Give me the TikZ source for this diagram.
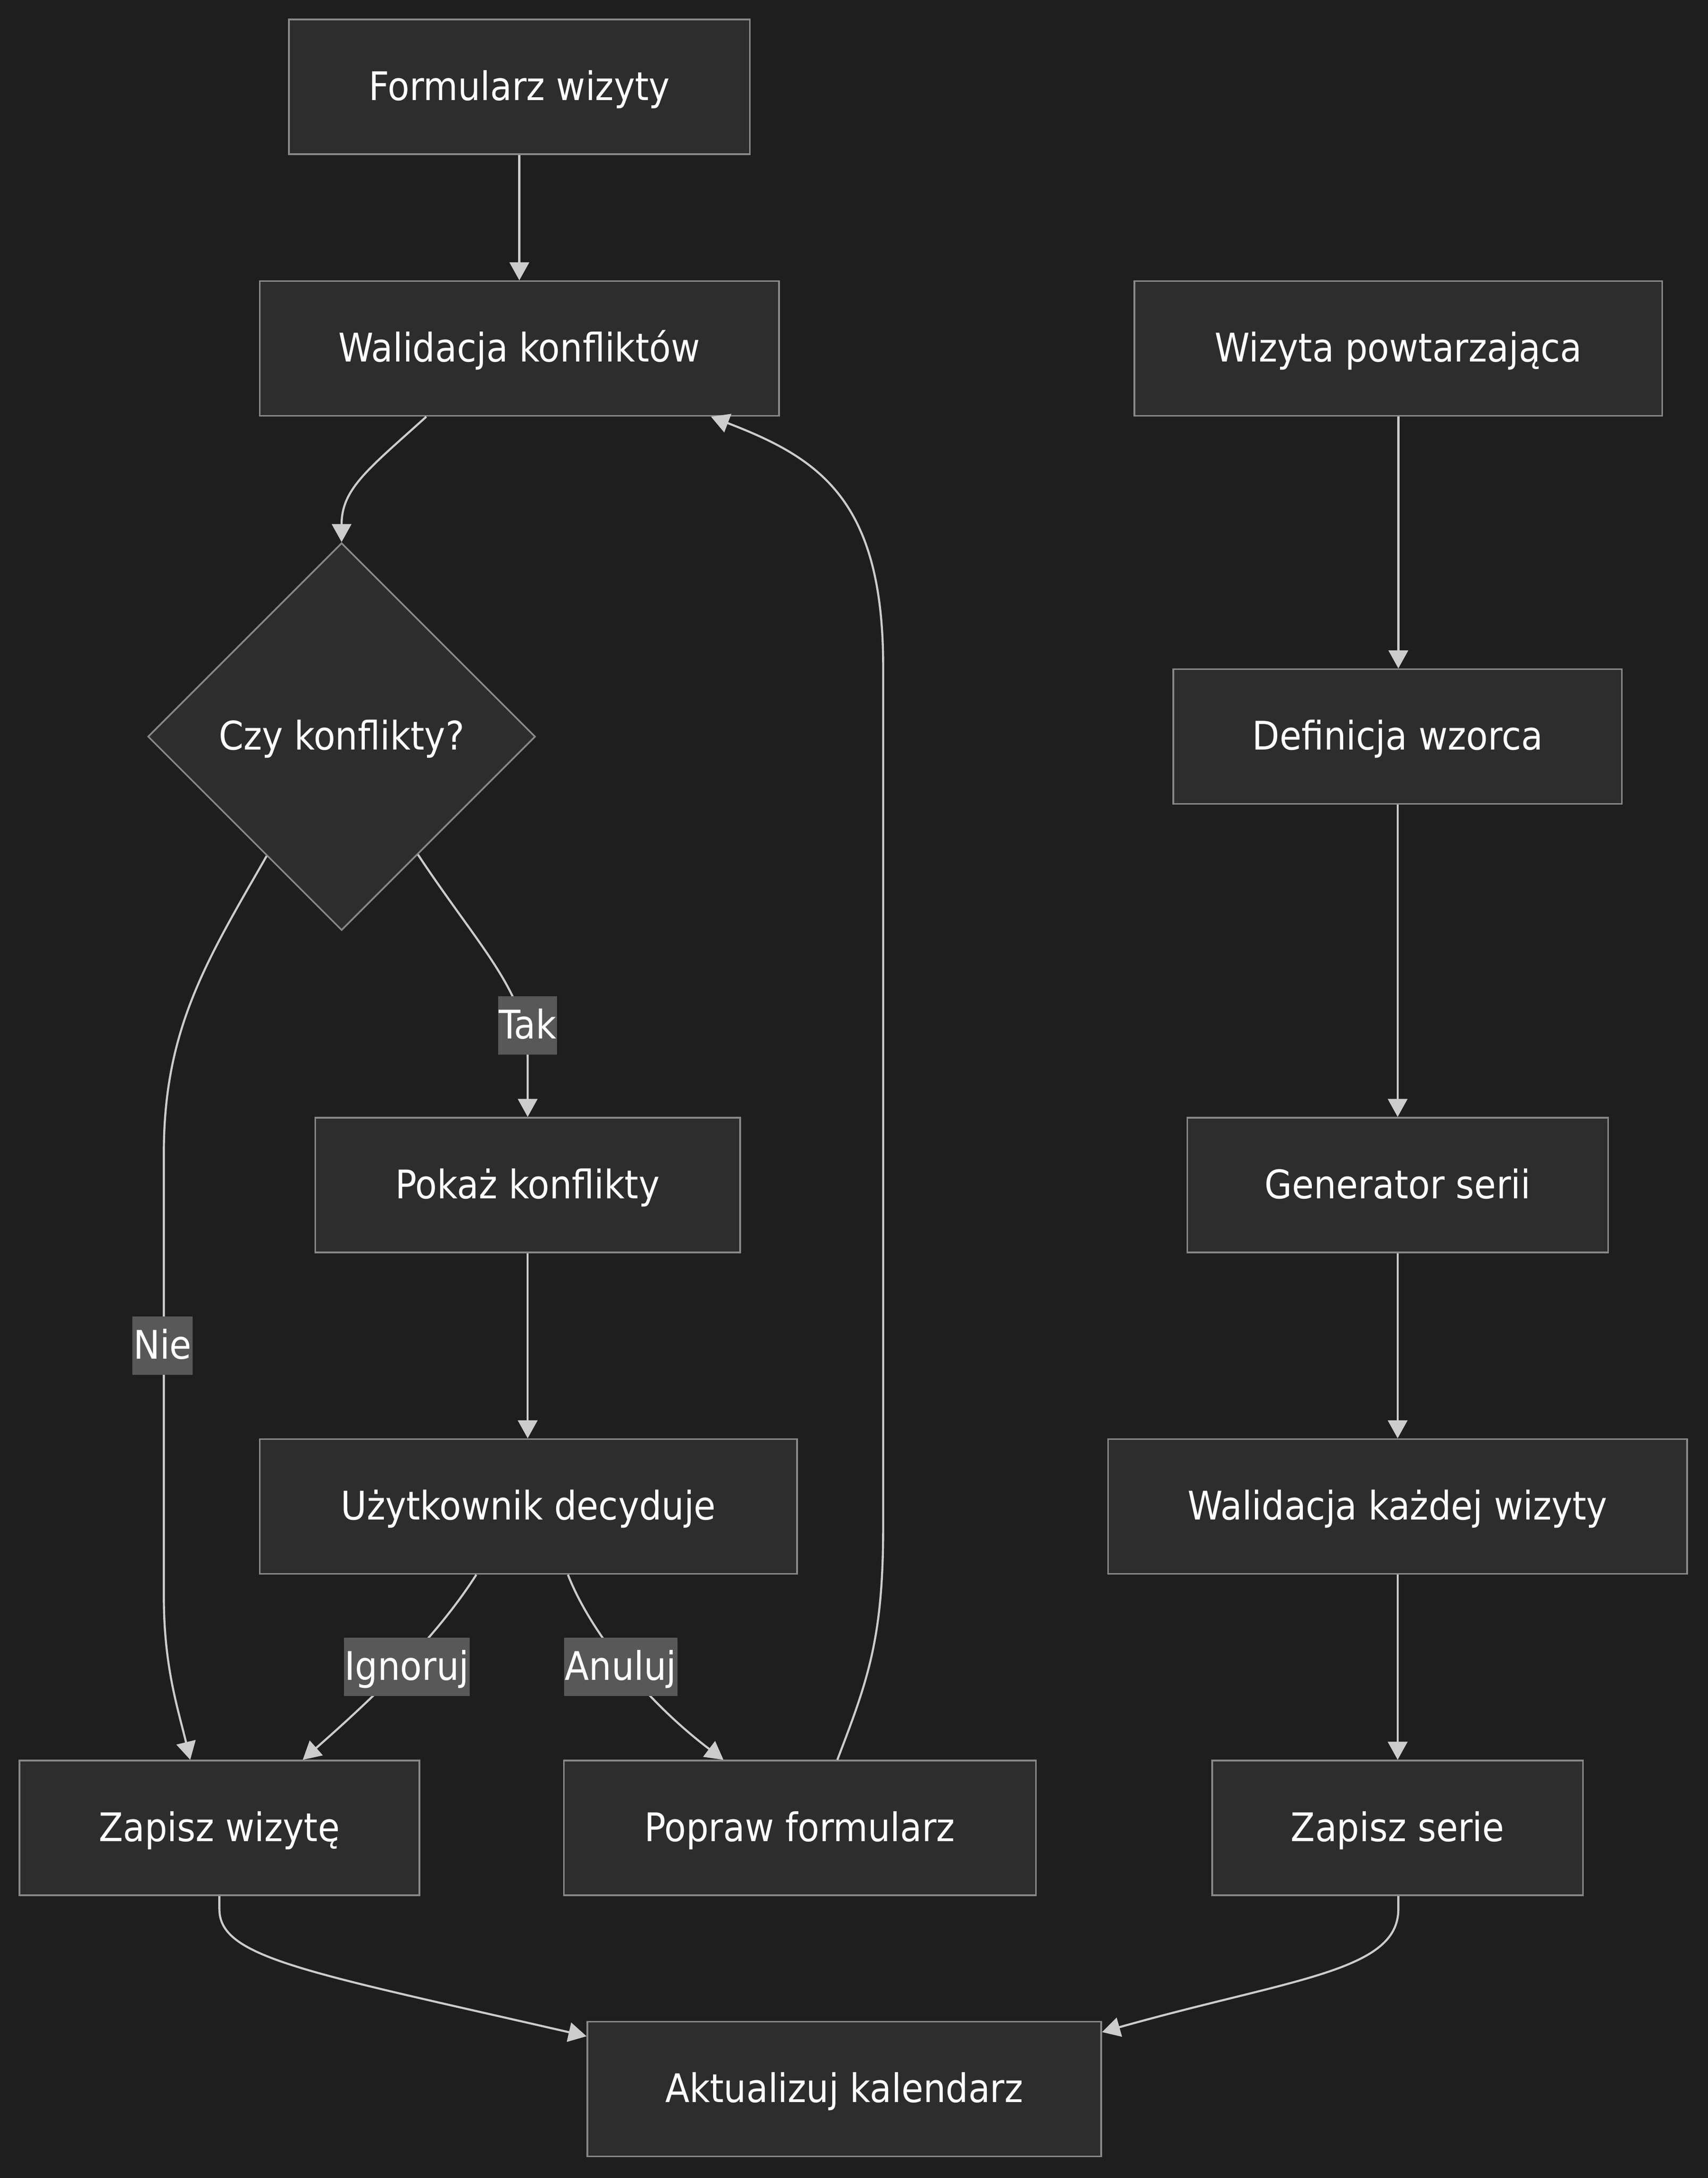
\documentclass[tikz,border=0pt]{standalone}
\usepackage{fontspec}
\setmainfont{DejaVu Sans Condensed}
\usetikzlibrary{shapes.geometric,arrows.meta,calc}
\definecolor{bgc}{HTML}{1E1E1E}
\definecolor{nodefill}{HTML}{2D2D2D}
\definecolor{nodeline}{HTML}{888888}
\definecolor{edgec}{HTML}{CCCCCC}
\definecolor{lblfill}{HTML}{585858}
\begin{document}
\begin{tikzpicture}[x=0.5pt,y=-0.5pt,
  every node/.style={font=\fontsize{14.2pt}{17pt}\selectfont, text=white, text height=1.16em, text depth=0.2em},
  box/.style={draw=nodeline, fill=nodefill, line width=0.6pt, rectangle, minimum height=48.5pt, inner sep=0pt},
  dia/.style={draw=nodeline, fill=nodefill, line width=0.6pt, diamond, aspect=1, minimum width=139.5pt, minimum height=139.5pt, inner sep=0pt},
  arr/.style={draw=edgec, line width=0.75pt, -{Triangle[length=6.5pt,width=7pt]}},
  lbl/.style={fill=lblfill, inner xsep=0.3pt, inner ysep=0pt, minimum height=21pt}
]
\fill[bgc] (0,0) rectangle (1230,1568.6);
\useasboundingbox (0,0) rectangle (1230,1568.6);

% nodes
\node[box, minimum width=166pt] (form) at (374,62.5) {Formularz wizyty};
\node[box, minimum width=187pt] (wal) at (374,251) {Walidacja konfliktów};
\node[box, minimum width=190pt] (wp) at (1007,251) {Wizyta powtarzająca};
\node[dia] (dec) at (246,530.5) {Czy konflikty?};
\node[box, minimum width=161.5pt] (def) at (1006.5,530.5) {Definicja wzorca};
\node[box, minimum width=153pt] (pok) at (380,853.5) {Pokaż konflikty};
\node[box, minimum width=151.5pt] (gen) at (1006.5,853.5) {Generator serii};
\node[box, minimum width=193.5pt] (user) at (380.5,1085) {Użytkownik decyduje};
\node[box, minimum width=208.5pt] (walk) at (1006.5,1085) {Walidacja każdej wizyty};
\node[box, minimum width=144pt] (zap) at (158,1316.5) {Zapisz wizytę};
\node[box, minimum width=170pt] (popr) at (576,1316.5) {Popraw formularz};
\node[box, minimum width=133.5pt] (zs) at (1006.5,1316.5) {Zapisz serie};
\node[box, minimum width=185pt] (akt) at (608,1504.5) {Aktualizuj kalendarz};

% edges
\draw[arr] (form.south) -- (wal.north);
\draw[arr] ($(wal.south)+(-67,0)$) .. controls (265,338) and (246,352) .. (dec.north);
\draw[arr] ($(dec.center)+(55,85)$) .. controls (345,682) and (380,715) .. (380,762) -- (pok.north);
\draw[arr] ($(dec.center)+(-54,86)$) .. controls (150,690) and (118,740) .. (118,830) -- (118,1150) .. controls (118,1200) and (128,1230) .. ($(zap.north)+(-21,0)$);
\draw[arr] (pok.south) -- ($(user.north)+(-0.5,0)$);
\draw[arr] ($(user.south)+(-37.5,0)$) .. controls (315,1178) and (272,1220) .. ($(zap.north)+(60,0)$);
\draw[arr] ($(user.south)+(28.5,0)$) .. controls (425,1175) and (465,1225) .. ($(popr.north)+(-55,0)$);
\draw[arr] ($(popr.north)+(27,0)$) .. controls (625,1210) and (636,1180) .. (636,1100) -- (636,480) .. controls (636,360) and (590,330) .. ($(wal.south)+(138,0)$);
\draw[arr] (wp.south) -- ($(def.north)+(0.5,0)$);
\draw[arr] (def.south) -- (gen.north);
\draw[arr] (gen.south) -- (walk.north);
\draw[arr] (walk.south) -- (zs.north);
\draw[arr] (zap.south) -- (158,1375) .. controls (158,1410) and (220,1420) .. ($(akt.west)+(0,-38)$);
\draw[arr] ($(zs.south)+(0.5,0)$) -- (1007,1375) .. controls (1007,1420) and (930,1425) .. ($(akt.east)+(0,-41)$);

% edge labels
\node[lbl] (ltak) at (380,738.5) {Tak};
\node[lbl] (lnie) at (117,969) {Nie};
\node[lbl] (lign) at (293,1200.5) {Ignoruj};
\node[lbl] (lanu) at (447,1200.5) {Anuluj};
\end{tikzpicture}
\end{document}
